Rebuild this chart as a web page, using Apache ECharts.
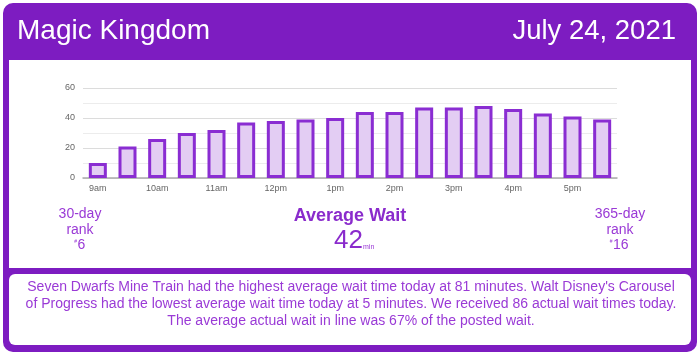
<!DOCTYPE html>
<html>
<head>
<meta charset="utf-8">
<script src="https://cdn.jsdelivr.net/npm/echarts@6/dist/echarts.min.js"></script>
<style>html,body{margin:0;padding:0;background:#fff}#c{width:700px;height:355px}</style>
</head>
<body>
<div id="c"></div>
<script>
var categories = ['9am','9:30am','10am','10:30am','11am','11:30am','12pm','12:30pm','1pm','1:30pm','2pm','2:30pm','3pm','3:30pm','4pm','4:30pm','5pm','5:30pm'];
var waits = [10,21,26,30,32,37,38,39,40,44,44,47,47,48,46,43,41,39];
var yTicks = [0,20,40,60];
var parkName = 'Magic Kingdom';
var dateText = 'July 24, 2021';
var avgWait = 42;
var rank30 = 6;
var rank365 = 16;
var summaryLines = [
  "Seven Dwarfs Mine Train had the highest average wait time today at 81 minutes. Walt Disney's Carousel",
  "of Progress had the lowest average wait time today at 5 minutes. We received 86 actual wait times today.",
  "The average actual wait in line was 67% of the posted wait."
];

var HEAD = '#7d1cc1';
var TXT = '#9a3ad6';
var FONT = 'Liberation Sans, Arial, sans-serif';

var chart = echarts.init(document.getElementById('c'));
chart.setOption({
  animation: false,
  grid: {left: 83, right: 83, top: 88, bottom: 177},
  xAxis: {
    type: 'category', data: categories,
    axisTick: {show: false},
    axisLine: {lineStyle: {color: '#aaa', width: 1.5}},
    axisLabel: {interval: 1, color: '#666', fontSize: 9, margin: 6, fontFamily: FONT}
  },
  yAxis: {
    type: 'value', min: yTicks[0], max: yTicks[yTicks.length-1], interval: 20,
    axisLabel: {color: '#666', fontSize: 9, margin: 8, fontFamily: FONT},
    splitLine: {lineStyle: {color: '#dcdcdc'}},
    minorTick: {show: false, splitNumber: 2},
    minorSplitLine: {show: true, lineStyle: {color: '#ececec'}}
  },
  series: [{
    type: 'bar', data: waits, barWidth: 18,
    itemStyle: {color: '#e3cdf3', borderColor: '#8a2dd2', borderWidth: 3}
  }],
  graphic: [
    {type: 'rect', z: -10, shape: {x: 3, y: 3, width: 694, height: 349, r: 10}, style: {fill: HEAD}},
    {type: 'rect', z: -9, shape: {x: 9, y: 60, width: 682, height: 208, r: 0}, style: {fill: '#fff'}},
    {type: 'rect', z: -9, shape: {x: 9, y: 274, width: 682, height: 71, r: 6}, style: {fill: '#fff'}},
    {type: 'text', z: 10, left: 17, top: 17, style: {text: parkName, fill: '#fff', font: '28px ' + FONT}},
    {type: 'text', z: 10, right: 24, top: 17, style: {text: dateText, fill: '#fff', font: '27.5px ' + FONT}},
    {type: 'text', z: 10, x: 80, y: 206, style: {text: '30-day\nrank', fill: TXT, font: '14px ' + FONT, textAlign: 'center', lineHeight: 16}},
    {type: 'text', z: 10, x: 620, y: 206, style: {text: '365-day\nrank', fill: TXT, font: '14px ' + FONT, textAlign: 'center', lineHeight: 16}},
    {type: 'text', z: 10, x: 77.5, y: 238, style: {text: String(rank30), fill: TXT, font: '14px ' + FONT, textAlign: 'left'}},
    {type: 'text', z: 10, x: 77, y: 239, style: {text: '#', fill: TXT, font: '5px ' + FONT, textAlign: 'right'}},
    {type: 'text', z: 10, x: 613, y: 238, style: {text: String(rank365), fill: TXT, font: '14px ' + FONT, textAlign: 'left'}},
    {type: 'text', z: 10, x: 612.5, y: 239, style: {text: '#', fill: TXT, font: '5px ' + FONT, textAlign: 'right'}},
    {type: 'text', z: 10, x: 350, y: 207, style: {text: 'Average Wait', fill: '#8a2bcc', font: 'bold 18px ' + FONT, textAlign: 'center'}},
    {type: 'text', z: 10, x: 334, y: 228, style: {text: String(avgWait), fill: '#8a2bcc', font: '26px ' + FONT, textAlign: 'left'}},
    {type: 'text', z: 10, x: 363, y: 244, style: {text: 'min', fill: TXT, font: '7px ' + FONT, textAlign: 'left'}},
    {type: 'text', z: 10, x: 351, y: 279, style: {text: summaryLines.join('\n'), fill: TXT, font: '14px ' + FONT, textAlign: 'center', lineHeight: 17}}
  ]
});
</script>
</body>
</html>
